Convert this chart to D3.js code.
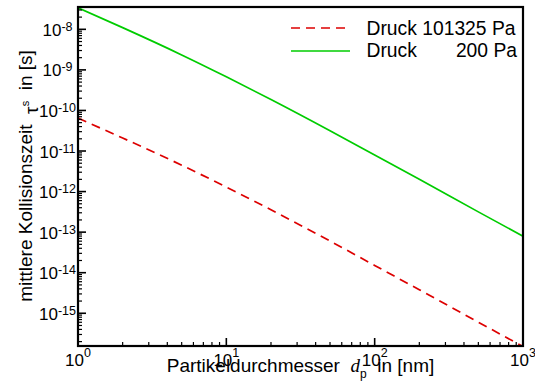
<!DOCTYPE html>
<html>
<head>
<meta charset="utf-8">
<script src="https://cdn.jsdelivr.net/npm/d3@7"></script>
<style>
  body { margin: 0; background: #fff; }
  text { font-family: "Liberation Sans", Arial, sans-serif; fill: #000; }
</style>
</head>
<body>
<div id="chart"></div>
<script>
// Data
let diameters = [1, 2, 5, 10, 20, 50, 100, 200, 500, 1000];
let tauAtm = [6.46e-11, 2.09e-11, 4.47e-12, 1.29e-12, 3.55e-13, 6.03e-14, 1.51e-14, 3.80e-15, 6.03e-16, 1.51e-16];
let tauLow = [3.39e-8, 1.10e-8, 2.34e-9, 6.76e-10, 1.86e-10, 3.16e-11, 7.94e-12, 2.0e-12, 3.16e-13, 7.94e-14];
let seriesNames = ["Druck 101325 Pa", "Druck      200 Pa"];
let xMajor = [1, 10, 100, 1000];
let xExp = ["0", "1", "2", "3"];
let yMajor = [1e-8, 1e-9, 1e-10, 1e-11, 1e-12, 1e-13, 1e-14, 1e-15];
let yExp = ["-8", "-9", "-10", "-11", "-12", "-13", "-14", "-15"];

// Dimensions
let margin = {top: 7, right: 12, bottom: 46, left: 78},
    width = 535 - margin.left - margin.right,
    height = 392 - margin.top - margin.bottom;

let svg = d3.select("#chart").append("svg")
    .attr("width", 535)
    .attr("height", 392);

let x = d3.scaleLog().domain([1, 1000]).range([margin.left, margin.left + width]);
let y = d3.scaleLog().domain([1.56e-16, 3.55e-8]).range([margin.top + height, margin.top]);

// clip for the curves
svg.append("clipPath").attr("id", "plot-clip")
    .append("rect")
    .attr("x", margin.left).attr("y", margin.top)
    .attr("width", width).attr("height", height);

let line = d3.line()
    .x(d => x(d[0]))
    .y(d => y(d[1]))
    .curve(d3.curveMonotoneX);

let plot = svg.append("g").attr("clip-path", "url(#plot-clip)");

plot.append("path")
    .datum(diameters.map((d, i) => [d, tauLow[i]]))
    .attr("fill", "none")
    .attr("stroke", "#00cc00")
    .attr("stroke-width", 1.7)
    .attr("d", line);

plot.append("path")
    .datum(diameters.map((d, i) => [d, tauAtm[i]]))
    .attr("fill", "none")
    .attr("stroke", "#dd0000")
    .attr("stroke-width", 1.7)
    .attr("stroke-dasharray", "9,6")
    .attr("d", line);

// minor tick positions (2..9 in every decade)
function minorTicks(scale) {
    let [lo, hi] = scale.domain();
    let out = [];
    for (let e = Math.floor(Math.log10(lo)); e <= Math.ceil(Math.log10(hi)); e++) {
        for (let m = 2; m <= 9; m++) {
            let v = m * Math.pow(10, e);
            if (v >= lo && v <= hi) out.push(v);
        }
    }
    return out;
}

let ticks = svg.append("g").attr("stroke", "#000").attr("stroke-width", 1.2);

// x ticks point up into the plot
ticks.selectAll(".xminor").data(minorTicks(x)).enter().append("line")
    .attr("x1", d => x(d)).attr("x2", d => x(d))
    .attr("y1", margin.top + height).attr("y2", margin.top + height - 4);
ticks.selectAll(".xmajor").data(xMajor).enter().append("line")
    .attr("stroke-width", 1.6)
    .attr("x1", d => x(d)).attr("x2", d => x(d))
    .attr("y1", margin.top + height).attr("y2", margin.top + height - 8);

// y ticks point right into the plot
ticks.selectAll(".yminor").data(minorTicks(y)).enter().append("line")
    .attr("x1", margin.left).attr("x2", margin.left + 4)
    .attr("y1", d => y(d)).attr("y2", d => y(d));
ticks.selectAll(".ymajor").data(yMajor).enter().append("line")
    .attr("stroke-width", 1.6)
    .attr("x1", margin.left).attr("x2", margin.left + 8)
    .attr("y1", d => y(d)).attr("y2", d => y(d));

// frame
svg.append("rect")
    .attr("x", margin.left).attr("y", margin.top)
    .attr("width", width).attr("height", height)
    .attr("fill", "none")
    .attr("stroke", "#000")
    .attr("stroke-width", 2.2);

// tick labels, power of ten notation
let xLabels = svg.append("g").selectAll("text")
    .data(xMajor).enter().append("text")
    .attr("x", d => x(d))
    .attr("y", margin.top + height + 20)
    .attr("text-anchor", "middle")
    .attr("font-size", 17);
xLabels.append("tspan").text("10");
xLabels.append("tspan").attr("font-size", 12.5).attr("dy", -9).text((d, i) => xExp[i]);

let yLabels = svg.append("g").selectAll("text")
    .data(yMajor).enter().append("text")
    .attr("x", 57.5)
    .attr("y", d => y(d) + 6.5)
    .attr("text-anchor", "middle")
    .attr("font-size", 17);
yLabels.append("tspan").text("10");
yLabels.append("tspan").attr("font-size", 12.5).attr("dy", -5).text((d, i) => yExp[i]);

// axis titles
let xTitle = svg.append("text")
    .attr("x", margin.left + width / 2)
    .attr("y", 372)
    .attr("text-anchor", "middle")
    .attr("font-size", 19)
    .style("white-space", "pre");
xTitle.append("tspan").text("Partikeldurchmesser  ");
xTitle.append("tspan").attr("font-family", "Liberation Serif, serif").attr("font-style", "italic").text("d");
xTitle.append("tspan").attr("font-size", 12).attr("dy", 6).text("p");
xTitle.append("tspan").attr("dy", -6).text("  in [nm]");

let yTitle = svg.append("text")
    .attr("transform", "translate(31.5,176) rotate(-90)")
    .attr("text-anchor", "middle")
    .attr("font-size", 19)
    .style("white-space", "pre");
yTitle.append("tspan").text("mittlere Kollisionszeit  ");
yTitle.append("tspan").attr("dy", 6).text("τ");
yTitle.append("tspan").attr("font-size", 11).attr("dy", -9).text("s");
yTitle.append("tspan").attr("dy", 3).text("  in [s]");

// legend
let legend = svg.append("g");
legend.append("line")
    .attr("x1", 291).attr("x2", 348).attr("y1", 28).attr("y2", 28)
    .attr("stroke", "#dd0000").attr("stroke-width", 1.7).attr("stroke-dasharray", "9,6");
legend.append("line")
    .attr("x1", 291).attr("x2", 350).attr("y1", 51).attr("y2", 51)
    .attr("stroke", "#00cc00").attr("stroke-width", 1.7);
legend.append("text")
    .attr("x", 366.5).attr("y", 34.5)
    .attr("font-size", 19.3)
    .text(seriesNames[0]);
let parts = seriesNames[1].split(/\s{2,}/);
legend.append("text")
    .attr("x", 366.5).attr("y", 57)
    .attr("font-size", 19.3)
    .text(parts[0]);
legend.append("text")
    .attr("x", 517).attr("y", 57)
    .attr("text-anchor", "end")
    .attr("font-size", 19.3)
    .text(parts[1]);
</script>
</body>
</html>
